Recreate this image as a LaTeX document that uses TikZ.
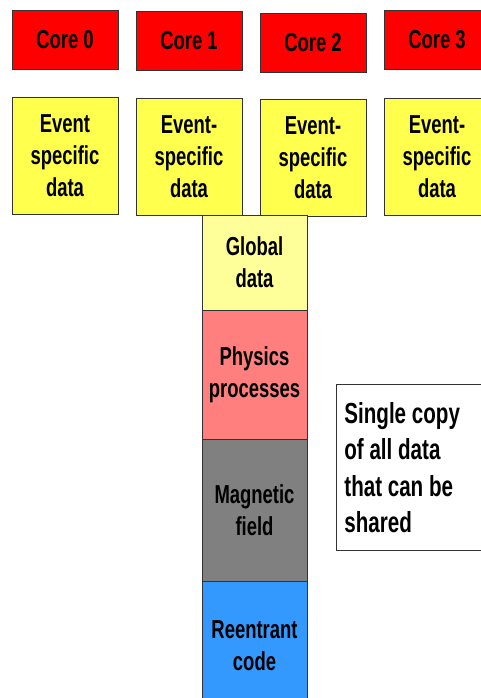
\documentclass[tikz,border=0pt]{standalone}
\usepackage{fontspec}
\setmainfont{Liberation Sans}[FakeStretch=0.71]
\usepackage{xcolor}
\usetikzlibrary{positioning}

\definecolor{corered}{RGB}{255,0,0}
\definecolor{evyellow}{RGB}{255,255,77}
\definecolor{globyellow}{RGB}{255,255,153}
\definecolor{physred}{RGB}{255,127,127}
\definecolor{maggray}{RGB}{128,128,128}
\definecolor{codeblue}{RGB}{51,153,255}

\tikzset{
  box/.style={draw=black!80, line width=0.8pt, inner sep=0pt, outer sep=0pt, align=center,
    font=\bfseries\fontsize{26}{32}\selectfont, minimum width=106pt},
  core/.style={box, fill=corered, minimum height=59pt},
  evdata/.style={box, fill=evyellow, minimum height=117pt},
  layer/.style={box, minimum width=105pt},
}

\begin{document}
\begin{tikzpicture}[x=1pt, y=-1pt]
\useasboundingbox (0,0) rectangle (481,698);

\node[core] (core0) at (65,40) {Core 0};
\node[core] (core1) at (189,41) {Core 1};
\node[core] (core2) at (313,42.5) {Core 2};
\node[core] (core3) at (437,40) {Core 3};

\node[evdata] (ev0) at (65,156) {Event\\specific\\data};
\node[evdata] (ev1) at (189,156.5) {Event-\\specific\\data};
\node[evdata] (ev2) at (313,157.5) {Event-\\specific\\data};
\node[evdata] (ev3) at (437,156.5) {Event-\\specific\\data};

% shared memory stack
\node[layer, fill=globyellow, minimum height=95pt] (global) at (254.5,262.5) {Global\\data};
\node[layer, fill=physred, minimum height=129pt, below=0pt of global] (physics) {Physics\\processes};
\node[layer, fill=maggray, minimum height=142pt, below=0pt of physics] (field) {Magnetic\\field};
\node[layer, fill=codeblue, minimum height=129pt, below=0pt of field] (code) {Reentrant\\code};

\node[draw=black!80, line width=0.8pt, fill=white, anchor=north west, align=flush left,
  text width=150pt, inner xsep=8pt, inner ysep=0pt, minimum height=166pt,
  font=\bfseries\fontsize{29}{36.5}\selectfont] (note) at (336,384)
  {Single copy\\of all data\\that can be\\shared};
\end{tikzpicture}
\end{document}
